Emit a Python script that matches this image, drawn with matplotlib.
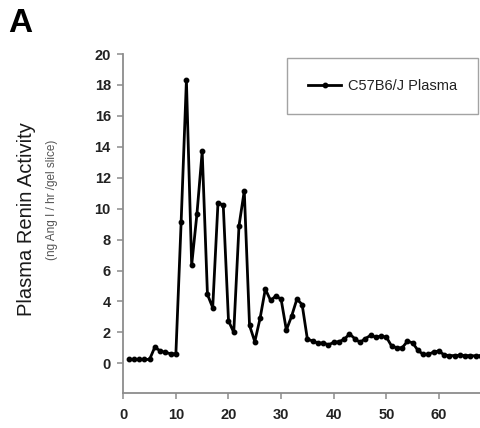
import matplotlib
matplotlib.use("Agg")
import matplotlib.pyplot as plt

plt.rcParams['font.family'] = ['Liberation Sans', 'DejaVu Sans']

# gel slice number and plasma renin activity per slice
slices = list(range(1, 69))
renin = [0.25, 0.25, 0.25, 0.25, 0.25, 1.05, 0.8, 0.7, 0.62, 0.62,
         9.15, 18.3, 6.35, 9.65, 13.7, 4.45, 3.6, 10.35, 10.25, 2.75,
         2.0, 8.9, 11.15, 2.45, 1.4, 2.9, 4.8, 4.07, 4.35, 4.15,
         2.15, 3.05, 4.15, 3.8, 1.55, 1.45, 1.3, 1.32, 1.2, 1.35,
         1.4, 1.55, 1.9, 1.6, 1.35, 1.6, 1.8, 1.7, 1.75, 1.7,
         1.12, 1.0, 1.0, 1.42, 1.33, 0.84, 0.58, 0.58, 0.73, 0.8,
         0.54, 0.5, 0.5, 0.52, 0.5, 0.5, 0.48, 0.5]

xticks = [0, 10, 20, 30, 40, 50, 60]
yticks = [0, 2, 4, 6, 8, 10, 12, 14, 16, 18, 20]

fig = plt.figure(figsize=(4.81, 4.28), dpi=100)
ax = fig.add_axes([0.2563, 0.0825, 0.7437, 0.7913])

ax.plot(slices, renin, color='black', lw=2.0, marker='o', ms=3.2,
        label='C57B6/J Plasma', clip_on=False)

ax.set_xlim(0, 68)
ax.set_ylim(-1.9, 20)
ax.set_xticks(xticks)
ax.set_yticks(yticks)

for side in ['top', 'right']:
    ax.spines[side].set_visible(False)
for side in ['left', 'bottom']:
    ax.spines[side].set_color('#8c8c8c')
    ax.spines[side].set_linewidth(1.3)

ax.tick_params(axis='both', direction='out', length=4, width=1.1,
               color='#8c8c8c', labelsize=10.5, pad=5)
for lab in ax.get_xticklabels() + ax.get_yticklabels():
    lab.set_fontweight('bold')
    lab.set_color('#222222')
ax.tick_params(axis='x', pad=7)

leg = ax.legend(loc='upper right', bbox_to_anchor=(0.994, 0.865),
                bbox_transform=fig.transFigure, fontsize=10.5,
                frameon=True, fancybox=False, handlelength=2.3,
                borderpad=1.45, handletextpad=0.45, borderaxespad=0)
leg.get_frame().set_edgecolor('#8c8c8c')
leg.get_frame().set_linewidth(1.0)
for t in leg.get_texts():
    t.set_color('#222222')

fig.text(0.055, 0.488, 'Plasma Renin Activity', rotation=90, fontsize=14.5,
         ha='center', va='center', color='#1a1a1a')
fig.text(0.108, 0.532, '(ng Ang I / hr /gel slice)', rotation=90, fontsize=8.5,
         ha='center', va='center', color='#555555')
fig.text(0.016, 0.925, 'A', fontsize=24, fontweight='bold', ha='left',
         va='baseline', color='black')

fig.savefig('out.png', dpi=100)
